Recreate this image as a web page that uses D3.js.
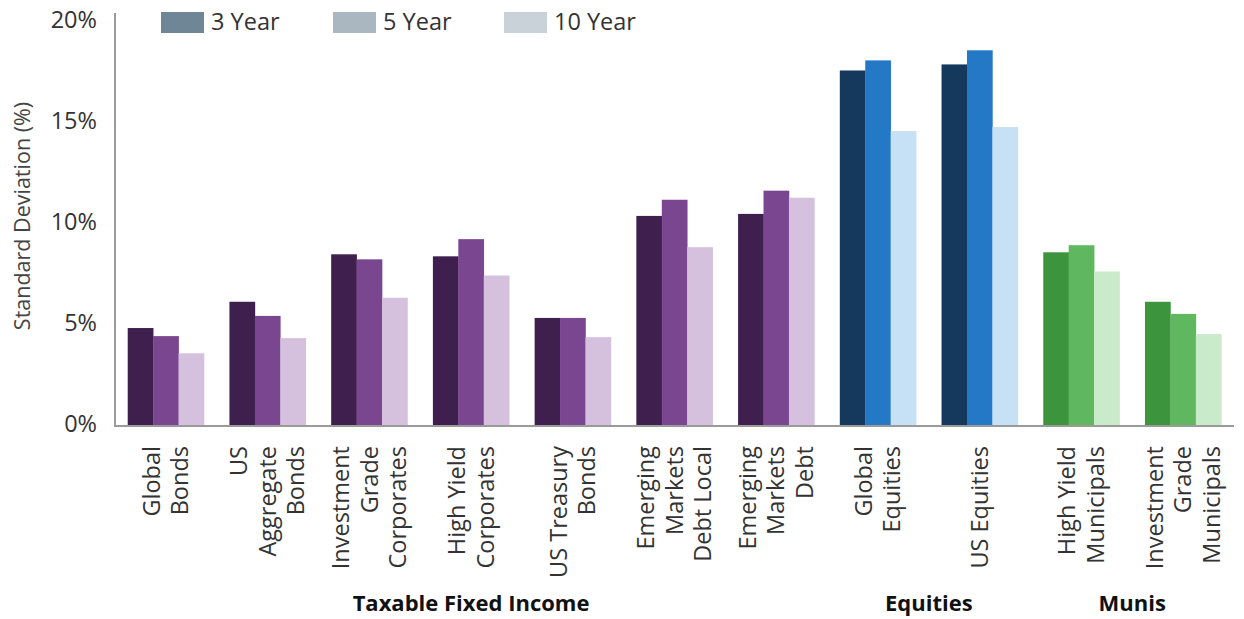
<!DOCTYPE html>
<html>
<head>
<meta charset="utf-8">
<script src="https://cdn.jsdelivr.net/npm/d3@7"></script>
<style>
  body { margin: 0; background: #fff; }
  svg { display: block; font-family: "Open Sans", sans-serif; }
</style>
</head>
<body>
<div id="chart"></div>
<script>
// categories, with their label lines
const categories = ["Global Bonds", "US Aggregate Bonds", "Investment Grade Corporates", "High Yield Corporates",
  "US Treasury Bonds", "Emerging Markets Debt Local", "Emerging Markets Debt", "Global Equities",
  "US Equities", "High Yield Municipals", "Investment Grade Municipals"]
const labelLines = [["Global", "Bonds"], ["US", "Aggregate", "Bonds"], ["Investment", "Grade", "Corporates"],
  ["High Yield", "Corporates"], ["US Treasury", "Bonds"], ["Emerging", "Markets", "Debt Local"],
  ["Emerging", "Markets", "Debt"], ["Global", "Equities"], ["US Equities"],
  ["High Yield", "Municipals"], ["Investment", "Grade", "Municipals"]]
const assetClass = ["taxable", "taxable", "taxable", "taxable", "taxable", "taxable", "taxable",
  "equities", "equities", "munis", "munis"]

const series = ["3 Year", "5 Year", "10 Year"]
const threeYear = [4.85, 6.15, 8.5, 8.4, 5.35, 10.4, 10.5, 17.6, 17.9, 8.6, 6.15]
const fiveYear = [4.45, 5.45, 8.25, 9.25, 5.35, 11.2, 11.65, 18.1, 18.6, 8.95, 5.55]
const tenYear = [3.6, 4.35, 6.35, 7.45, 4.4, 8.85, 11.3, 14.6, 14.8, 7.65, 4.55]

const yTicks = [0, 5, 10, 15, 20]
const groupNames = [["taxable", "Taxable Fixed Income"], ["equities", "Equities"], ["munis", "Munis"]]

const palette = {
  taxable: ["#3e1f4d", "#7a4690", "#d5c0de"],
  equities: ["#14395d", "#2479c7", "#c6e0f6"],
  munis: ["#3c953c", "#5fb85f", "#c9ebc9"]
}
const legendColors = ["#6f8697", "#aab6c0", "#c9d2d9"]

const width = 1244, height = 619

const svg = d3.select("#chart").append("svg")
  .attr("width", width)
  .attr("height", height)

const x = d3.scaleBand().domain(categories).range([115, 1234]).paddingInner(0.25).paddingOuter(0.125)
const xs = d3.scaleBand().domain(series).range([0, x.bandwidth()])
const y = d3.scaleLinear().domain([0, 20]).range([426, 22])

const values = [threeYear, fiveYear, tenYear]
const bars = []
categories.forEach((c, i) => {
  series.forEach((s, j) => bars.push({cat: c, s: s, v: values[j][i], color: palette[assetClass[i]][j]}))
})

svg.selectAll(".bar")
  .data(bars)
  .enter().append("rect")
  .attr("class", "bar")
  .attr("x", d => x(d.cat) + xs(d.s))
  .attr("width", xs.bandwidth() + 0.3)
  .attr("y", d => y(d.v))
  .attr("height", d => y(0) - y(d.v))
  .attr("fill", d => d.color)

// axes lines
svg.append("line").attr("x1", 115).attr("x2", 115).attr("y1", 13).attr("y2", y(0))
  .attr("stroke", "#9a9a9a").attr("stroke-width", 2)
svg.append("line").attr("x1", 114).attr("x2", 1234).attr("y1", y(0)).attr("y2", y(0))
  .attr("stroke", "#9a9a9a").attr("stroke-width", 2)

// y tick labels
svg.selectAll(".ytick")
  .data(yTicks)
  .enter().append("text")
  .attr("class", "ytick")
  .attr("x", 97)
  .attr("y", d => y(d) - 2)
  .attr("dy", "0.35em")
  .attr("text-anchor", "end")
  .attr("font-size", 23.5)
  .attr("fill", "#333")
  .text(d => d + "%")

svg.append("text")
  .attr("transform", "translate(22,216) rotate(-90)")
  .attr("text-anchor", "middle")
  .attr("dy", "0.35em")
  .attr("font-size", 21.5)
  .attr("fill", "#444")
  .text("Standard Deviation (%)")

// category labels, rotated
const lineGap = 28.5
const catLabel = svg.selectAll(".cat")
  .data(categories)
  .enter().append("g")
  .attr("class", "cat")

catLabel.each(function(c, i){
  const lines = labelLines[i]
  const cx = x(c) + x.bandwidth() / 2
  lines.forEach((t, k) => {
    const lx = cx + (k - (lines.length - 1) / 2) * lineGap
    d3.select(this).append("text")
      .attr("transform", "translate(" + lx + ",446) rotate(-90)")
      .attr("text-anchor", "end")
      .attr("dy", "0.35em")
      .attr("font-size", 23.5)
      .attr("fill", "#333")
      .text(t)
  })
})

// asset class headings
groupNames.forEach(g => {
  const cats = categories.filter((c, i) => assetClass[i] === g[0])
  const left = x(cats[0]), right = x(cats[cats.length - 1]) + x.bandwidth()
  svg.append("text")
    .attr("x", (left + right) / 2)
    .attr("y", 611)
    .attr("text-anchor", "middle")
    .attr("font-size", 22)
    .attr("font-weight", "bold")
    .attr("fill", "#111")
    .text(g[1])
})

// legend
const legendX = [161, 333, 504]
series.forEach((s, i) => {
  svg.append("rect")
    .attr("x", legendX[i]).attr("y", 12)
    .attr("width", 43).attr("height", 21)
    .attr("fill", legendColors[i])
  svg.append("text")
    .attr("x", legendX[i] + 50).attr("y", 22)
    .attr("dy", "0.35em")
    .attr("font-size", 23.5)
    .attr("fill", "#333")
    .text(s)
})
</script>
</body>
</html>
